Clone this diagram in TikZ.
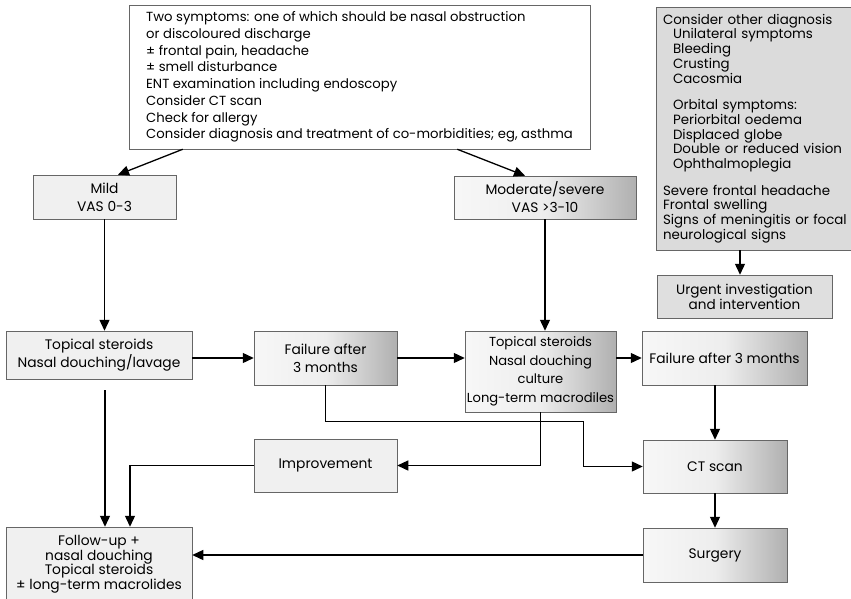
\documentclass[tikz,border=0pt]{standalone}
\usepackage{fontspec}
\setmainfont{Poppins}
\usetikzlibrary{arrows.meta}

\pgfdeclarehorizontalshading{darkright}{100bp}{color(0bp)=(gray!6); color(25bp)=(gray!6); color(50bp)=(gray!14); color(75bp)=(gray!62); color(100bp)=(gray!62)}

\tikzset{
  box/.style={draw=black!60, line width=0.5pt, align=center, inner sep=0pt, font=\fontsize{13.8}{18}\selectfont},
  lightbox/.style={box, fill=gray!12},
  fadebox/.style={box, shading=darkright},
  arr/.style={line width=1.3pt, -{Triangle[length=11pt,width=10pt]}}
}

\begin{document}
\begin{tikzpicture}[x=1pt, y=-1pt]
	\useasboundingbox (0,0) rectangle (851,598);
	% top and side boxes
	\node[box, fill=white, align=left, minimum width=461pt, minimum height=144pt, font=\fontsize{13.2}{16.7}\selectfont] (top) at (359.5,77) {Two symptoms: one of which should be nasal obstruction\\ or discoloured discharge\\ ± frontal pain, headache\\ ± smell disturbance\\ ENT examination including endoscopy\\ Consider CT scan\\ Check for allergy\\ Consider diagnosis and treatment of co-morbidities; eg, asthma};
	\node[box, fill=gray!28, align=left, inner xsep=7pt, text width=210pt, minimum height=243pt, font=\fontsize{13.4}{14.7}\selectfont] (other) at (768,128.5) {Consider other diagnosis\\ \hspace*{10pt}Unilateral symptoms\\ \hspace*{10pt}Bleeding\\ \hspace*{10pt}Crusting\\ \hspace*{10pt}Cacosmia\\[12pt] \hspace*{10pt}Orbital symptoms:\\ \hspace*{10pt}Periorbital oedema\\ \hspace*{10pt}Displaced globe\\ \hspace*{10pt}Double or reduced vision\\ \hspace*{10pt}Ophthalmoplegia\\[12pt] Severe frontal headache\\ Frontal swelling\\ Signs of meningitis or focal\\ neurological signs};
	\node[box, fill=gray!25, minimum width=175pt, minimum height=43pt, font=\fontsize{13.6}{14}\selectfont] (urgent) at (744.5,296.5) {Urgent investigation\\ and intervention};
	% severity
	\node[lightbox, minimum width=143pt, minimum height=44pt] (mild) at (104.5,197) {Mild\\ VAS 0-3};
	\node[fadebox, minimum width=182pt, minimum height=43pt] (mod) at (545,197.5) {Moderate/severe\\ VAS >3-10};
	% treatment row
	\node[lightbox, minimum width=186pt, minimum height=48pt] (topL) at (99,355) {Topical steroids\\ Nasal douching/lavage};
	\node[fadebox, minimum width=143pt, minimum height=54pt] (failM) at (325.5,358) {Failure after\\ 3 months};
	\node[fadebox, minimum width=151pt, minimum height=81pt, font=\fontsize{13.1}{18.5}\selectfont] (topM) at (540.5,371.5) {Topical steroids\\ Nasal douching\\ culture\\ Long-term macrodiles};
	\node[fadebox, minimum width=165pt, minimum height=54pt] (failR) at (724.5,358) {Failure after 3 months};
	% lower row
	\node[lightbox, minimum width=143pt, minimum height=53pt] (improv) at (325.5,465.5) {Improvement};
	\node[fadebox, minimum width=144pt, minimum height=53pt] (ct) at (715,466.5) {CT scan};
	\node[fadebox, minimum width=144pt, minimum height=54pt] (surg) at (715,555) {Surgery};
	\node[lightbox, minimum width=186pt, minimum height=74pt, font=\fontsize{13.8}{14.5}\selectfont] (follow) at (99,564) {Follow-up +\\ nasal douching\\ Topical steroids\\ ± long-term macrolides};
	% connectors
	\draw[arr] ([xshift=54pt]top.south west) -- ([xshift=13.5pt]mild.north);
	\draw[arr] ([xshift=-133pt]top.south east) -- ([xshift=-20pt]mod.north);
	\draw[arr] ([xshift=-28pt]other.south) -- ([xshift=-28pt]other.south |- urgent.north);
	\draw[arr] (mild.south) -- (mild.south |- topL.north);
	\draw[arr] (mod.south) -- (mod.south |- topM.north);
	\draw[arr] (topL.east |- failM.west) -- (failM.west);
	\draw[arr] (failM.east) -- (failM.east -| topM.west);
	\draw[arr] (topM.east |- failR.west) -- (failR.west);
	\draw[arr] (ct.north |- failR.south) -- (ct.north);
	\draw[arr] (ct.south) -- (surg.north);
	\draw[arr] (surg.west) -- (surg.west -| follow.east);
	\draw[arr] ([xshift=6pt,yshift=-11pt]topL.south) -- ([xshift=6pt]follow.north);
	\draw[arr] (improv.west) -| ([xshift=31pt]follow.north);
	\draw[arr] (topM.south) |- (improv.east);
	\draw[arr] (failM.south) |- ++(258,36) |- (ct.west);
\end{tikzpicture}
\end{document}
